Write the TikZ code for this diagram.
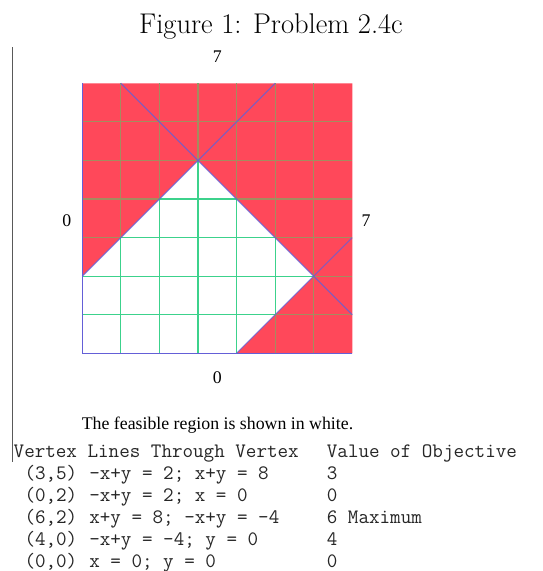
\documentclass[tikz,border=0pt]{standalone}
\usepackage{fontspec}
\newfontfamily\tms{Liberation Serif}
\definecolor{regred}{RGB}{255,72,90}
\definecolor{gridgreen}{RGB}{60,210,140}
\definecolor{gridolive}{RGB}{165,140,95}
\definecolor{lineblue}{RGB}{100,95,215}
\begin{document}
\begin{tikzpicture}[x=1pt,y=-1pt,
  lbl/.style={inner sep=0pt, font=\tms\fontsize{17.8}{20}\selectfont},
  mono/.style={inner sep=0pt, anchor=base west, text=black!85, font=\ttfamily\fontsize{20.5}{22}\selectfont},
  gl/.style={line width=1.1pt},
  bl/.style={lineblue, line width=1.2pt},
  dl/.style={lineblue, line width=1.2pt, opacity=0.75}]
\useasboundingbox[fill=white] (0,0) rectangle (542,571);
\node[inner sep=0pt, anchor=base, font=\fontsize{28.5}{32}\selectfont] (cap) at (271,33) {Figure 1: Problem 2.4c};
\draw[gray!70!black, line width=1pt] (12.5,47) coordinate (bt) -- (12.5,462) coordinate (bb);
\begin{scope}[shift={(82.3,353.3)}, x=38.57pt, y=38.57pt]
  \fill[regred] (0,2) -- (0,7) -- (7,7) -- (7,0) -- (4,0) -- (6,2) -- (3,5) -- cycle;
  \foreach \i in {1,...,6} {
    \draw[gl, gridgreen] (\i,0) -- (\i,7);
    \draw[gl, gridgreen] (0,\i) -- (7,\i);
  }
  \begin{scope}
    \clip (0,2) -- (0,7) -- (7,7) -- (7,0) -- (4,0) -- (6,2) -- (3,5) -- cycle;
    \foreach \i in {1,...,6} {
      \draw[gl, gridolive] (\i,0) -- (\i,7);
      \draw[gl, gridolive] (0,\i) -- (7,\i);
    }
  \end{scope}
  \draw[bl] (0,7) coordinate (ytop) -- (0,0) coordinate (O) -- (7,0) coordinate (xend);
  \draw[dl] (1,7) coordinate (a1) -- (7,1) coordinate (a2);
  \draw[dl] (0,2) coordinate (b1) -- (5,7) coordinate (b2);
  \draw[dl] (4,0) coordinate (c1) -- (7,3) coordinate (c2);
  \node[lbl] (top7) at (3.5,7.68) {7};
  \node[lbl] (left0) at (-0.40,3.45) {0};
  \node[lbl] (right7) at (7.36,3.45) {7};
  \node[lbl] (bot0) at (3.5,-0.64) {0};
\end{scope}
\node[lbl, anchor=base] (feas) at (217.5,429) {The feasible region is shown in white.};
\def\xo{13.5}
\def\cw{10.8}
\node[mono] (h1) at (\xo,457) {Vertex Lines Through Vertex};
\node[mono] (h2) at (\xo+29*\cw,457) {Value of Objective};
\foreach \v/\l/\o [count=\k] in {(3{,}5)/{-x+y = 2; x+y = 8}/3,
    (0{,}2)/{-x+y = 2; x = 0}/0,
    (6{,}2)/{x+y = 8; -x+y = -4}/6 Maximum,
    (4{,}0)/{-x+y = -4; y = 0}/4,
    (0{,}0)/{x = 0; y = 0}/0} {
  \node[mono] (v\k) at (\xo+\cw,457+22*\k) {\v};
  \node[mono] (l\k) at (\xo+7*\cw,457+22*\k) {\l};
  \node[mono] (o\k) at (\xo+29*\cw,457+22*\k) {\o};
}
\end{tikzpicture}
\end{document}
